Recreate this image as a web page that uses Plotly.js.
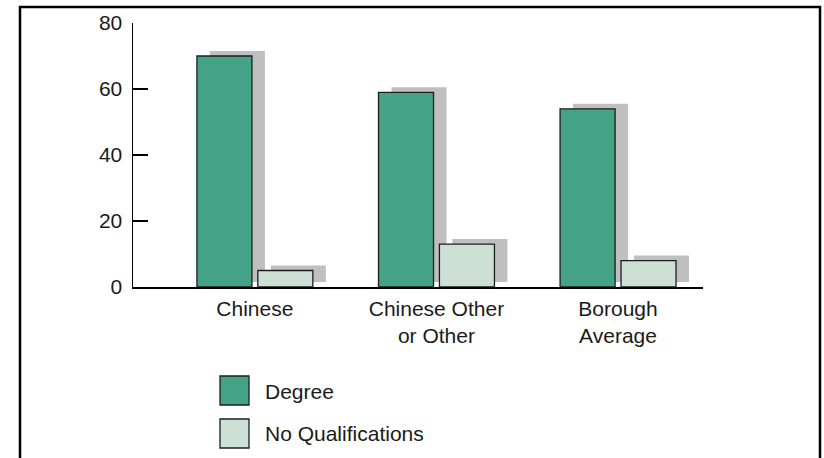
<!DOCTYPE html>
<html>
<head>
<meta charset="utf-8">
<script src="https://cdn.plot.ly/plotly-3.0.1.min.js"></script>
<style>html,body{margin:0;padding:0;background:#fff;}#chart{width:824px;height:458px;}</style>
</head>
<body>
<div id="chart"></div>
<script>
// ---- data ----
const categories = ["Chinese", "Chinese Other<br>or Other", "Borough<br>Average"];
const seriesNames = ["Degree", "No Qualifications"];
const degree = [70, 59, 54];
const noQualifications = [5, 13, 8];
const yTickVals = [0, 20, 40, 60, 80];

// ---- styles ----
const colDegree = "#44a286";
const colNoQual = "#cde0d5";
const colShadow = "#bfbfbf";
const outline = {color: "#1e1e1e", width: 1.3};
const fontFam = "Liberation Sans, Arial, Helvetica, sans-serif";
const fs = 21;

const barW = 0.303;
const offDeg = -0.319, offNQ = 0.0165;
const shX = 0.0715;   // shadow shift right (category units)
const shY = 1.52;     // shadow shift up (value units)
const xs = [0, 1, 2];

function shadow(vals, off) {
  return {type: "bar", x: xs, y: vals, base: vals.map(() => shY),
    width: barW, offset: off + shX, marker: {color: colShadow, line: {width: 0}},
    hoverinfo: "skip", showlegend: false};
}
const traces = [
  shadow(degree, offDeg),
  shadow(noQualifications, offNQ),
  {type: "bar", name: seriesNames[0], x: xs, y: degree, width: barW, offset: offDeg,
   marker: {color: colDegree, line: outline}, showlegend: false},
  {type: "bar", name: seriesNames[1], x: xs, y: noQualifications, width: barW, offset: offNQ,
   marker: {color: colNoQual, line: outline}, showlegend: false}
];

// layout geometry (pixels -> paper)
const L = 133, R = 703, T = 23, B = 287, W = 824, H = 458;
const px = v => (v - L) / (R - L);
const py = v => (B - v) / (B - T);

const legendColors = [colDegree, colNoQual];
const legendTops = [376, 419];
const shapes = [
  {type: "rect", xref: "paper", yref: "paper", x0: px(20), x1: px(820), y0: py(470), y1: py(7),
   line: {color: "#000", width: 2.5}, fillcolor: "rgba(0,0,0,0)", layer: "below"}
];
const annotations = [];
seriesNames.forEach((n, i) => {
  const t = legendTops[i];
  shapes.push({type: "rect", xref: "paper", yref: "paper", x0: px(220), x1: px(249), y0: py(t + 29), y1: py(t),
    line: {color: "#1e1e1e", width: 1.3}, fillcolor: legendColors[i]});
  annotations.push({xref: "paper", yref: "paper", x: px(263), y: py(t + 15), text: n, showarrow: false,
    xanchor: "left", yanchor: "middle", font: {family: fontFam, size: fs, color: "#1a1a1a"}});
});

const layout = {
  width: W, height: H,
  margin: {l: L, r: W - R, t: T, b: H - B, pad: 0},
  paper_bgcolor: "#fff", plot_bgcolor: "#fff",
  barmode: "overlay",
  showlegend: false,
  font: {family: fontFam, size: fs, color: "#1a1a1a"},
  xaxis: {
    range: [-0.671, 2.468], tickmode: "array", tickvals: xs, ticktext: categories,
    showgrid: false, zeroline: false, showline: true, linecolor: "#000", linewidth: 1.5,
    ticks: "", fixedrange: true, ticklabelstandoff: 2
  },
  yaxis: {
    range: [0, 80], tickmode: "array", tickvals: yTickVals,
    showgrid: false, zeroline: false, showline: true, linecolor: "#000", linewidth: 1.5,
    ticks: "inside", ticklen: 15, tickwidth: 1.5, tickcolor: "#000",
    ticklabelstandoff: 5, fixedrange: true
  },
  shapes: shapes,
  annotations: annotations
};

Plotly.newPlot("chart", traces, layout, {displayModeBar: false, staticPlot: true});
</script>
</body>
</html>
